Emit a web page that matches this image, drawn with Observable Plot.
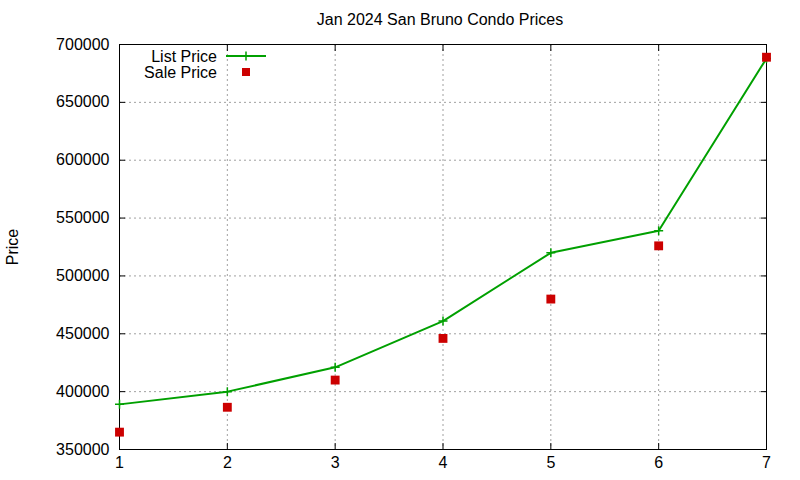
<!DOCTYPE html>
<html>
<head>
<meta charset="utf-8">
<script src="https://cdn.jsdelivr.net/npm/d3@7"></script>
<script src="https://cdn.jsdelivr.net/npm/@observablehq/plot@0.6"></script>
<style>
  body { margin: 0; background: #fff; }
  #wrap { position: relative; width: 800px; height: 480px; font-family: "Liberation Sans", Arial, sans-serif; }
  #title { position: absolute; left: 0; width: 880px; top: 11px; text-align: center; font-size: 16px; color: #000; }
  #legend { position: absolute; left: 0; top: 0; }
</style>
</head>
<body>
<div id="wrap">
  <div id="chart"></div>
  <div id="title"></div>
  <svg id="legend" width="300" height="90"></svg>
</div>
<script>
const titleText = "Jan 2024 San Bruno Condo Prices";
const yLabel = "Price";
const seriesNames = ["List Price", "Sale Price"];
const months = [1, 2, 3, 4, 5, 6, 7];
const listPrice = [389000, 400000, 421000, 461000, 520000, 539000, 688000];
const salePrice = [365000, 386500, 410000, 446000, 480000, 526000, 689000];
const xTicks = [1, 2, 3, 4, 5, 6, 7];
const yTicks = [350000, 400000, 450000, 500000, 550000, 600000, 650000, 700000];

const green = "#00a000";
const red = "#cc0000";

const listRows = months.map((m, i) => ({x: m, y: listPrice[i]}));
const saleRows = months.map((m, i) => ({x: m, y: salePrice[i]}));

const plusSymbol = {
  draw(ctx, size) {
    const r = Math.sqrt(size / Math.PI);
    ctx.moveTo(-r, 0); ctx.lineTo(r, 0);
    ctx.moveTo(0, -r); ctx.lineTo(0, r);
  }
};

const chart = Plot.plot({
  width: 800,
  height: 480,
  marginLeft: 119,
  marginRight: 34,
  marginTop: 44,
  marginBottom: 31,
  style: {fontFamily: "Liberation Sans, Arial, sans-serif", fontSize: "16px", color: "#000", background: "#fff", overflow: "visible"},
  x: {domain: [1, 7], label: null},
  y: {domain: [350000, 700000], label: null},
  marks: [
    Plot.gridX(xTicks, {stroke: "#a0a0a0", strokeOpacity: 1, strokeDasharray: "2,3"}),
    Plot.gridY(yTicks, {stroke: "#a0a0a0", strokeOpacity: 1, strokeDasharray: "2,3"}),
    Plot.axisX(xTicks, {anchor: "bottom", tickSize: 0, tickPadding: 7, tickFormat: d => String(d), fontSize: 16}),
    Plot.axisY(yTicks, {anchor: "left", tickSize: 0, tickPadding: 10, tickFormat: d => String(d), fontSize: 16}),
    Plot.axisX(xTicks, {anchor: "bottom", tickSize: -6, tickFormat: () => ""}),
    Plot.axisX(xTicks, {anchor: "top", tickSize: -6, tickFormat: () => ""}),
    Plot.axisY(yTicks, {anchor: "left", tickSize: -6, tickFormat: () => ""}),
    Plot.axisY(yTicks, {anchor: "right", tickSize: -6, tickFormat: () => ""}),
    Plot.frame({stroke: "#000", strokeWidth: 1}),
    Plot.line(listRows, {x: "x", y: "y", stroke: green, strokeWidth: 2}),
    Plot.dot(listRows, {x: "x", y: "y", symbol: plusSymbol, r: 4.5, stroke: green, strokeWidth: 1.5, fill: "none"}),
    Plot.dot(saleRows, {x: "x", y: "y", symbol: "square", r: 5, fill: red, stroke: "none"}),
    Plot.text([yLabel], {frameAnchor: "left", textAnchor: "middle", lineAnchor: "middle", dx: -107, rotate: -90, text: d => d, fontSize: 16, fill: "#000"})
  ]
});
document.getElementById("chart").appendChild(chart);
document.getElementById("title").textContent = titleText;

// Legend (gnuplot-style, top-left inside the plot)
const lg = d3.select("#legend");
const legendItems = [
  {name: seriesNames[0], kind: "line", cy: 56},
  {name: seriesNames[1], kind: "square", cy: 72}
];
legendItems.forEach(it => {
  lg.append("text").attr("x", 217).attr("y", it.cy).attr("dy", "0.35em")
    .attr("text-anchor", "end").attr("font-size", 16)
    .attr("font-family", "Liberation Sans, Arial, sans-serif").text(it.name);
  if (it.kind === "line") {
    lg.append("line").attr("x1", 226).attr("x2", 266).attr("y1", it.cy).attr("y2", it.cy)
      .attr("stroke", green).attr("stroke-width", 2);
    lg.append("path").attr("d", `M241.5,${it.cy}h9M246,${it.cy - 4.5}v9`)
      .attr("stroke", green).attr("stroke-width", 1.5).attr("fill", "none");
  } else {
    lg.append("rect").attr("x", 242).attr("y", it.cy - 4).attr("width", 8).attr("height", 8).attr("fill", red);
  }
});
</script>
</body>
</html>
